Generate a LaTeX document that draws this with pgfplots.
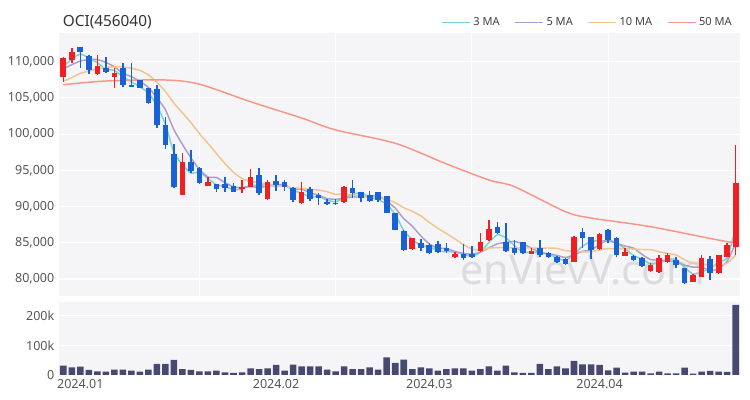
\documentclass[border=0pt]{standalone}
\usepackage{fontspec}
\setmainfont{Noto Sans}
\usepackage{pgfplots}
\usepackage{pgfplotstable}
\pgfplotsset{compat=1.18}

\definecolor{cup}{RGB}{238,32,36}
\definecolor{cdown}{RGB}{24,98,214}
\definecolor{ma3}{RGB}{120,210,210}
\definecolor{ma5}{RGB}{172,158,204}
\definecolor{ma10}{RGB}{242,196,142}
\definecolor{ma50}{RGB}{245,150,135}
\definecolor{volc}{RGB}{72,72,112}
\definecolor{bgc}{RGB}{245,245,247}
\definecolor{tickc}{RGB}{85,85,85}
\definecolor{wmark}{RGB}{220,220,222}

% prices in thousands: index open high low close
\pgfplotstableread{
i o h l c
0 107.94 110.70 107.25 110.48
1 110.24 111.86 109.79 111.39
4 108.31 110.93 108.17 109.42
6 107.85 109.10 106.33 108.40
14 91.60 97.45 91.60 96.12
17 92.88 94.05 92.88 93.44
21 92.53 93.67 91.84 92.66
22 92.75 95.15 92.66 94.13
24 91.01 93.67 90.91 93.44
28 90.45 93.44 90.36 91.98
33 90.68 92.84 90.45 92.75
41 84.10 85.62 83.97 85.62
46 83.00 83.77 82.86 83.45
49 83.91 86.31 83.77 85.15
50 85.39 88.15 85.29 86.86
55 83.45 84.24 83.45 83.91
60 82.39 85.94 82.30 85.84
63 84.10 86.40 84.00 86.17
66 83.18 84.24 83.18 83.77
69 81.15 82.17 81.01 81.93
70 81.01 83.31 80.87 82.86
71 82.39 83.59 82.17 83.31
74 79.63 80.69 79.54 80.55
75 80.32 83.31 80.23 82.86
77 80.79 83.31 80.69 83.31
78 83.08 85.02 83.00 84.70
79 84.38 98.50 83.31 93.22
}\up

\pgfplotstableread{
i o h l c
2 112.08 112.10 109.10 111.31
3 110.80 110.93 108.31 108.86
5 109.10 110.70 108.49 108.63
7 109.10 109.79 106.56 106.79
8 106.80 109.79 106.45 106.45
9 107.48 107.50 106.33 106.33
10 106.33 106.40 104.17 104.26
11 106.20 106.79 100.81 101.27
12 101.27 102.41 97.91 98.51
13 97.26 98.64 92.53 92.66
15 96.20 97.82 94.68 94.96
16 95.29 95.43 93.08 93.22
18 93.12 93.12 92.01 92.43
19 93.12 94.05 92.05 92.53
20 92.88 93.30 92.05 92.05
23 94.36 95.38 91.60 91.84
25 93.58 94.36 92.15 92.99
26 93.35 93.67 92.15 92.66
27 92.53 92.66 90.68 90.91
29 92.43 92.75 90.82 91.01
30 91.60 91.84 90.22 91.15
31 90.68 91.01 90.22 90.36
32 90.54 91.01 90.22 90.36
34 92.53 93.67 91.15 91.84
35 91.98 92.06 90.68 91.15
36 91.60 92.20 90.68 90.82
37 91.98 92.06 90.68 90.91
38 91.46 91.46 89.05 89.16
39 89.07 89.16 86.77 86.77
40 86.63 86.77 83.90 84.00
42 84.93 85.48 83.91 84.24
43 84.70 85.02 83.45 83.63
44 84.79 85.25 83.63 83.77
45 84.33 85.02 83.63 83.91
47 83.45 84.79 82.62 82.86
48 83.45 84.49 82.86 83.00
51 87.23 87.83 86.21 86.31
52 85.15 87.69 83.77 83.91
53 84.24 85.39 83.31 83.63
54 85.15 85.15 83.45 83.63
56 84.24 85.39 83.08 83.31
57 83.63 83.77 82.86 83.08
58 83.08 83.18 82.17 82.39
59 82.72 82.86 81.87 82.07
61 86.53 87.00 84.24 85.70
62 85.84 85.84 82.72 84.00
64 86.77 86.86 84.93 85.39
65 85.62 85.76 83.08 83.31
67 83.18 83.31 82.48 82.62
68 82.86 83.00 81.59 81.80
72 82.62 83.08 81.48 81.93
73 81.48 81.48 79.35 79.49
76 82.72 83.18 79.90 80.79
}\down

% moving averages (thousands)
\pgfplotstableread{
i m3 m5 m10
0 109.30 109.00 107.30
1 110.40 109.60 107.80
2 111.07 110.10 108.40
3 110.53 110.30 108.70
4 109.87 110.30 109.00
5 108.97 109.92 109.20
6 108.80 109.32 109.30
7 107.93 108.42 109.30
8 107.23 107.94 109.10
9 106.53 107.32 108.81
10 105.70 106.46 108.19
11 103.97 105.04 107.18
12 101.37 103.38 105.90
13 97.50 100.62 104.28
14 95.77 98.58 102.95
15 94.60 96.72 101.59
16 94.77 95.10 100.07
17 93.87 94.08 98.73
18 93.00 94.02 97.32
19 92.77 93.30 95.94
20 92.33 92.72 94.72
21 92.43 92.62 93.86
22 92.97 92.76 93.42
23 92.87 92.64 93.33
24 93.10 92.82 93.06
25 92.73 93.00 92.86
26 93.03 93.00 92.81
27 92.20 92.36 92.56
28 91.87 92.40 92.52
29 91.30 91.92 92.37
30 91.40 91.56 92.28
31 90.87 91.10 92.05
32 90.67 91.00 91.68
33 91.20 91.16 91.78
34 91.67 91.32 91.62
35 91.93 91.32 91.44
36 91.27 91.40 91.25
37 90.97 91.50 91.25
38 90.30 90.78 90.97
39 88.97 89.78 90.55
40 86.67 88.34 89.83
41 85.47 87.30 89.35
42 84.60 85.96 88.73
43 84.47 84.84 87.81
44 83.87 84.24 87.01
45 83.77 84.22 86.28
46 83.73 83.80 85.55
47 83.43 83.54 84.75
48 83.13 83.42 84.13
49 83.70 83.70 83.97
50 85.03 84.30 84.26
51 86.13 84.86 84.33
52 85.70 85.06 84.30
53 84.60 85.18 84.30
54 83.70 84.86 84.28
55 83.70 84.26 84.28
56 83.60 83.66 84.26
57 83.43 83.50 84.28
58 82.93 83.26 84.22
59 82.53 82.96 83.91
60 83.43 83.34 83.80
61 84.53 83.82 83.74
62 85.17 84.00 83.75
63 85.30 84.76 84.01
64 85.20 85.42 84.19
65 84.97 84.92 84.13
66 84.17 84.54 84.18
67 83.23 84.26 84.13
68 82.73 83.38 84.07
69 82.10 82.68 84.05
70 82.20 82.60 83.76
71 82.70 82.50 83.52
72 82.70 82.36 83.31
73 81.57 81.90 82.64
74 80.67 81.64 82.16
75 81.00 81.64 82.12
76 81.43 81.14 81.82
77 82.33 81.42 81.89
78 82.93 82.46 82.18
79 87.07 84.98 83.31
}\ma

\pgfplotstableread{
i m50
0 106.83
5 107.34
12 107.48
16 106.90
22 104.48
28 102.23
32 100.58
39 98.74
45 95.90
50 93.67
53 92.75
59 89.29
62 88.42
69 87.22
78 85.15
79 85.30
}\malong

% volume in thousands of shares
\pgfplotstableread{
i v
0 31.6
1 26
2 28
3 17
4 12.5
5 11.3
6 18
7 18
8 14.7
9 11.3
10 18
11 37.3
12 37.3
13 50.8
14 20.3
15 17
16 12.5
17 12.5
18 14.7
19 9
20 6.8
21 9
22 22.6
23 20.3
24 22.6
25 33.9
26 14.7
27 35
28 29.4
29 29.4
30 29.4
31 18
32 12.4
33 29.4
34 20.3
35 20.3
36 26
37 18
38 60
39 40.7
40 52
41 20.3
42 26
43 22.6
44 14.7
45 20.3
46 22.6
47 22.6
48 14.7
49 20.3
50 29.4
51 14.7
52 31.6
53 9
54 6.8
55 6.8
56 37.3
57 20.3
58 29.4
59 22.6
60 47.5
61 36
62 36
63 34
64 15.8
65 24.9
66 7.9
67 11.3
68 11.3
69 5.6
70 11.3
71 5.6
72 5.6
73 24.9
74 4.5
75 11.3
76 13.6
77 11.3
78 10.2
79 237
}\vol

\pgfplotsset{
  chartbase/.style={
    anchor=south west, scale only axis, width=510.75pt,
    xmin=-0.5, xmax=79.5,
    axis background/.style={fill=bgc},
    axis line style={draw=none},
    major tick length=0pt,
    grid style={white, line width=0.8pt},
    ticklabel style={font=\fontsize{9.4}{10}\selectfont, text=tickc},
  },
  wick/.style={draw=none, mark=none, forget plot,
    error bars/.cd, y dir=both, y explicit, error mark=none,
    error bar style={draw=#1, line width=1.1pt}},
  body/.style={draw=none, mark=none, forget plot,
    error bars/.cd, y dir=both, y explicit, error mark=none,
    error bar style={draw=#1, line width=4.2pt}},
}

\begin{document}
\begin{tikzpicture}
\path[use as bounding box] (0,0) rectangle (562.5pt,300pt);
\node[anchor=west, inner sep=0pt, font=\fontsize{11.5}{12}\selectfont, text=black!80] at (47pt,283.5pt) {OCI(456040)};

\begin{axis}[chartbase,
  at={(44.25pt,78pt)}, height=197.25pt,
  ymin=77.65, ymax=113.97,
  xtick={16,32,48,64}, xticklabels={},
  ytick={80,85,90,95,100,105,110},
  yticklabels={{80,000},{85,000},{90,000},{95,000},{100,000},{105,000},{110,000}},
  xmajorgrids, ymajorgrids,
  legend columns=4,
  legend style={at={(1,1)}, anchor=south east, xshift=-4pt, yshift=2pt,
    draw=none, fill=none, inner sep=0pt,
    font=\fontsize{8.3}{9}\selectfont, text=black!75,
    /tikz/every even column/.append style={column sep=9pt}},
  legend image code/.code={\draw[#1] (0pt,0pt) -- (21pt,0pt);},
]
\node[anchor=base west, inner sep=0pt, text=wmark, font=\fontsize{31}{31}\selectfont\bfseries] at (axis cs:46.6,79.17) {enVievV.com};

\addplot[ma3, line width=1.1pt, smooth, tension=0.3] table[x=i, y=m3] \ma;
\addlegendentry{3 MA}
\addplot[ma5, line width=1.1pt, smooth, tension=0.3] table[x=i, y=m5] \ma;
\addlegendentry{5 MA}
\addplot[ma10, line width=1.1pt, smooth, tension=0.3] table[x=i, y=m10] \ma;
\addlegendentry{10 MA}
\addplot[ma50, line width=1.1pt, smooth, tension=0.5] table[x=i, y=m50] \malong;
\addlegendentry{50 MA}

\addplot[wick=cup] table[x=i, y expr={(\thisrow{h}+\thisrow{l})/2}, y error expr={(\thisrow{h}-\thisrow{l})/2}] \up;
\addplot[body=cup] table[x=i, y expr={(\thisrow{o}+\thisrow{c})/2}, y error expr={max(abs(\thisrow{c}-\thisrow{o})/2,0.07)}] \up;
\addplot[wick=cdown] table[x=i, y expr={(\thisrow{h}+\thisrow{l})/2}, y error expr={(\thisrow{h}-\thisrow{l})/2}] \down;
\addplot[body=cdown] table[x=i, y expr={(\thisrow{o}+\thisrow{c})/2}, y error expr={max(abs(\thisrow{c}-\thisrow{o})/2,0.07)}] \down;
\end{axis}

\begin{axis}[chartbase,
  at={(44.25pt,18.75pt)}, height=54.75pt,
  ymin=0, ymax=247,
  ytick={0,100,200}, yticklabels={0,100k,200k},
  xtick={2,25,43,63}, xticklabels={2024.01,2024.02,2024.03,2024.04},
  ymajorgrids,
]
\addplot[ybar, bar width=4.9pt, bar shift=0pt, fill=volc, draw=none] table[x=i, y=v] \vol;
\end{axis}
\end{tikzpicture}
\end{document}
